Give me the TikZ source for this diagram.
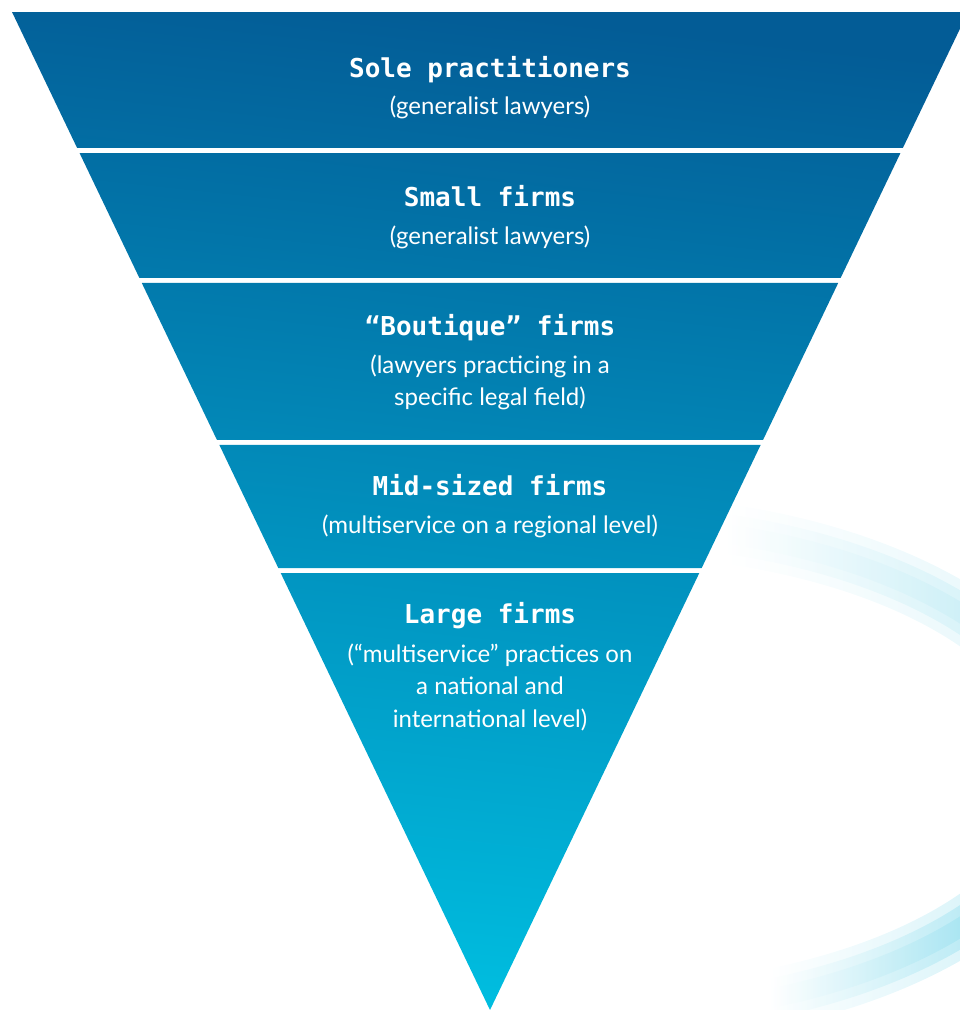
\documentclass[tikz,border=0pt]{standalone}
\usepackage{fontspec}
\setmainfont{Lato}
\newfontfamily\titlefont{DejaVu Sans Mono}
\usetikzlibrary{positioning,calc}

\definecolor{topblue}{HTML}{035C96}
\definecolor{midblue}{HTML}{0291C0}
\definecolor{tipcyan}{HTML}{00BEE0}
\definecolor{swirltop}{HTML}{C8EEF6}
\definecolor{swirlbot}{HTML}{9EE2F0}

\begin{document}
\begin{tikzpicture}[
  x=1pt, y=-1pt,
  title/.style={font=\titlefont\bfseries\fontsize{26}{30}\selectfont, text=white, inner sep=0pt, anchor=base},
  sub/.style={font=\fontsize{24}{32.5}\selectfont, text=white, align=center, inner sep=0pt}
]
\useasboundingbox (0,0) rectangle (960,1010);

% Background swirl
\foreach \w/\o in {30/0.35, 20/0.5, 10/0.6} {
  \begin{scope}[even odd rule]
    \clip (600,770) ellipse [x radius=470+\w, y radius=245+\w]
          (600,770) ellipse [x radius=470-\w, y radius=245-\w];
    \shade[opacity=\o, left color=white, right color=swirltop] (725,470) rectangle (960,770);
    \shade[opacity=\o, left color=white, right color=swirlbot] (770,770) rectangle (960,1010);
  \end{scope}
}

% Funnel
\coordinate (tl) at (12,12);
\coordinate (tr) at (968,12);
\coordinate (ap) at (490,1010);
\begin{scope}
  \clip \foreach \a/\b in {12/148, 153/278, 283/440, 445/568, 573/1010} {
    ($(tl)!{(\a-12)/998}!(ap)$) -- ($(tr)!{(\a-12)/998}!(ap)$) --
    ($(tr)!{(\b-12)/998}!(ap)$) -- ($(tl)!{(\b-12)/998}!(ap)$) -- cycle};
  \shade[top color=topblue, middle color=midblue, bottom color=tipcyan, shading angle=-6]
    (0,12) rectangle (968,1010);
\end{scope}

% Nodes
\node[title] (sole) at (490,77) {Sole practitioners};
\node[sub, below=37pt of sole.base, anchor=base] (soledesc) {(generalist lawyers)};
\node[title] (small) at (490,206) {Small firms};
\node[sub, below=38pt of small.base, anchor=base] (smalldesc) {(generalist lawyers)};
\node[title] (boutique) at (490,335) {“Boutique” firms};
\node[sub, below=70.5pt of boutique.base, anchor=base] (boutiquedesc) {(lawyers practicing in a\\specific legal field)};
\node[title] (mid) at (490,495) {Mid-sized firms};
\node[sub, below=38pt of mid.base, anchor=base] (middesc) {(multiservice on a regional level)};
\node[title] (large) at (490,623) {Large firms};
\node[sub, below=104pt of large.base, anchor=base] (largedesc) {(“multiservice” practices on\\a national and\\international level)};

\end{tikzpicture}
\end{document}
